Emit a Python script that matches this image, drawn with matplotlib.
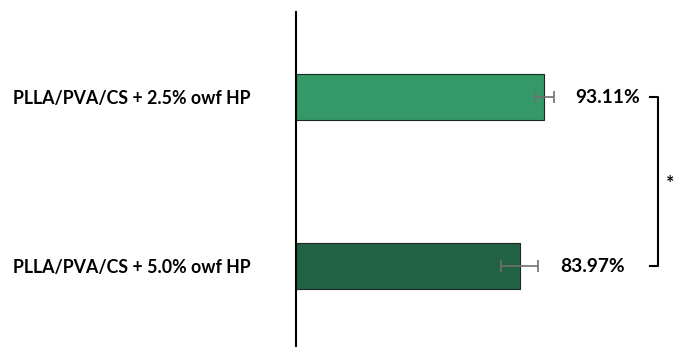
import matplotlib.pyplot as plt
import numpy as np

# bar data (bottom to top)
labels = ["PLLA/PVA/CS + 5.0% owf HP", "PLLA/PVA/CS + 2.5% owf HP"]
values = [83.97, 93.11]
errors = [7.0, 3.6]
colors = ["#226244", "#349966"]

plt.rcParams['font.family'] = ['Lato', 'DejaVu Sans']

fig = plt.figure(figsize=(6.75, 3.47), dpi=100)
ax = fig.add_axes([296 / 675, 0, 379 / 675, 335 / 347])

y = np.arange(len(values))
ax.barh(y, values, height=0.272, color=colors, edgecolor="#1a2a20", linewidth=0.8)
ax.errorbar(values, y, xerr=errors, fmt="none", ecolor="#707070",
            elinewidth=1.2, capsize=4, capthick=1.2)

for yi, v, e in zip(y, values, errors):
    ax.text(v + e + 8, yi, f"{v:.2f}%", va="center", ha="left",
            fontsize=13.8, fontweight="bold")

ax.set_xlim(0, 142.2)
ax.set_ylim(-0.479, 1.503)
ax.set_yticks(y)
ax.set_yticklabels(labels, fontsize=12.8, fontweight="bold")
ax.tick_params(axis="y", length=0, pad=33)
ax.set_xticks([])

for side in ["top", "right", "bottom"]:
    ax.spines[side].set_visible(False)
ax.spines["left"].set_linewidth(1.5)

# significance bracket
bx0, bx1 = 132.8, 135.8
ax.plot([bx0, bx1, bx1, bx0], [1, 1, 0, 0], color="black", lw=1.5, clip_on=False)
ax.text(140.3, 0.49, "*", ha="center", va="center", fontsize=14, fontweight="bold")

fig.savefig("out.png", dpi=100)
